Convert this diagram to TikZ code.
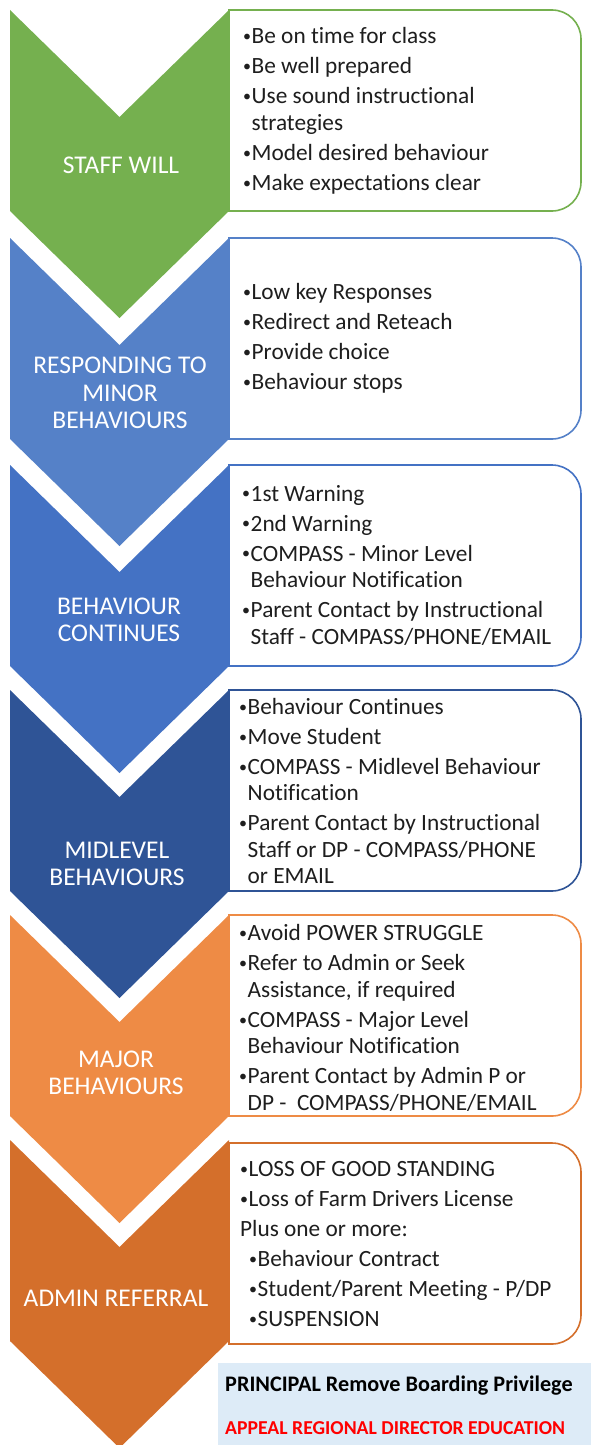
\documentclass[tikz,border=0pt]{standalone}
\usepackage{fontspec}
\setmainfont{Carlito}[Ligatures=NoCommon]
\definecolor{cGreen}{HTML}{75B04F}
\definecolor{cBlueA}{HTML}{5581C8}
\definecolor{cBlueB}{HTML}{4472C4}
\definecolor{cBlueC}{HTML}{2F5496}
\definecolor{cOrangeA}{HTML}{EE8B45}
\definecolor{cOrangeB}{HTML}{D46F2B}
\definecolor{noteFill}{HTML}{DDEBF7}
\definecolor{txt}{HTML}{1E1E1E}
\definecolor{appealRed}{HTML}{FF0000}

% bullet and continuation indent used in the lists
\newcommand{\bu}{\makebox[8.5pt][l]{\raisebox{2.2pt}{\fontsize{16}{16}\selectfont\textbullet}}}
\newcommand{\ct}{\hspace*{8.5pt}}

% chevron with top edge at #1 (pixels from top), colour #2
\newcommand{\chevronshape}[2]{%
  \fill[#2] (10,-#1) -- (119.5,-#1-107) -- (229,-#1) -- (229,-#1-201)
    -- (119.5,-#1-308) -- (10,-#1-201) -- cycle;}
% list box with top edge at #1, border colour #2
\newcommand{\listbox}[2]{%
  \draw[#2, line width=1.6pt, fill=white] (229,-#1) -- (552,-#1)
    arc[start angle=90, end angle=0, radius=29] -- (581,-#1-172)
    arc[start angle=0, end angle=-90, radius=29] -- (229,-#1-201) -- cycle;}

\tikzset{
  stagelabel/.style={text=white, align=center, inner sep=0pt,
    font=\fontsize{25.5}{27.5}\selectfont},
  listtext/.style={text=txt, align=left, inner sep=0pt, anchor=west,
    font=\fontsize{23.3}{26.5}\selectfont},
  notetext/.style={inner sep=0pt, anchor=west, font=\bfseries}
}

\begin{document}
\begin{tikzpicture}[x=1pt, y=1pt]
\useasboundingbox (0,0) rectangle (591,-1445);

% list boxes
\listbox{10}{cGreen}
\listbox{238}{cBlueA}
\listbox{465}{cBlueB}
\listbox{690}{cBlueC}
\listbox{915}{cOrangeA}
\listbox{1143}{cOrangeB}

% chevrons
\chevronshape{10}{cGreen}
\chevronshape{238}{cBlueA}
\chevronshape{465}{cBlueB}
\chevronshape{690}{cBlueC}
\chevronshape{915}{cOrangeA}
\chevronshape{1140}{cOrangeB}

% stage labels
\node[stagelabel] (staff) at (121,-165) {STAFF WILL};
\node[stagelabel] (minor) at (120,-393) {RESPONDING TO\\MINOR\\BEHAVIOURS};
\node[stagelabel] (cont) at (119,-620) {BEHAVIOUR\\CONTINUES};
\node[stagelabel] (mid) at (117,-864) {MIDLEVEL\\BEHAVIOURS};
\node[stagelabel] (major) at (116,-1073) {MAJOR\\BEHAVIOURS};
\node[stagelabel] (admin) at (116,-1298) {ADMIN REFERRAL};

% list contents
\node[listtext] (staffl) at (243,-111) {\bu Be on time for class\\[3.5pt]
  \bu Be well prepared\\[3.5pt]
  \bu Use sound instructional\\
  \ct strategies\\[3.5pt]
  \bu Model desired behaviour\\[3.5pt]
  \bu Make expectations clear};

\node[listtext] (minorl) at (243,-338) {\bu Low key Responses\\[3.5pt]
  \bu Redirect and Reteach\\[3.5pt]
  \bu Provide choice\\[3.5pt]
  \bu Behaviour stops};

\node[listtext] (contl) at (242,-565) {\bu 1st Warning\\[3.5pt]
  \bu 2nd Warning\\[3.5pt]
  \bu COMPASS - Minor Level\\
  \ct Behaviour Notification\\[3.5pt]
  \bu Parent Contact by Instructional\\
  \ct Staff - COMPASS/PHONE/EMAIL};

\node[listtext] (midl) at (239,-791) {\bu Behaviour Continues\\[3.5pt]
  \bu Move Student\\[3.5pt]
  \bu COMPASS - Midlevel Behaviour\\
  \ct Notification\\[3.5pt]
  \bu Parent Contact by Instructional\\
  \ct Staff or DP - COMPASS/PHONE\\
  \ct or EMAIL};

\node[listtext] (majorl) at (239,-1018) {\bu Avoid POWER STRUGGLE\\[3.5pt]
  \bu Refer to Admin or Seek\\
  \ct Assistance, if required\\[3.5pt]
  \bu COMPASS - Major Level\\
  \ct Behaviour Notification\\[3.5pt]
  \bu Parent Contact by Admin P or\\
  \ct DP -\ \ COMPASS/PHONE/EMAIL};

\node[listtext] (adminl) at (240,-1244) {\bu LOSS OF GOOD STANDING\\[3.5pt]
  \bu Loss of Farm Drivers License\\[3.5pt]
  Plus one or more:\\[3.5pt]
  \hspace*{9pt}\bu Behaviour Contract\\[3.5pt]
  \hspace*{9pt}\bu Student/Parent Meeting - P/DP\\[3.5pt]
  \hspace*{9pt}\bu SUSPENSION};

% principal note
\fill[noteFill] (218,-1363) rectangle (591,-1445);
\node[notetext, text=black, font=\fontsize{22.2}{24}\selectfont\bfseries]
  (principal) at (225,-1386) {PRINCIPAL Remove Boarding Privilege};
\node[notetext, text=appealRed, font=\fontsize{19.7}{22}\selectfont\bfseries]
  (appeal) at (225,-1428) {APPEAL REGIONAL DIRECTOR EDUCATION};
\end{tikzpicture}
\end{document}
